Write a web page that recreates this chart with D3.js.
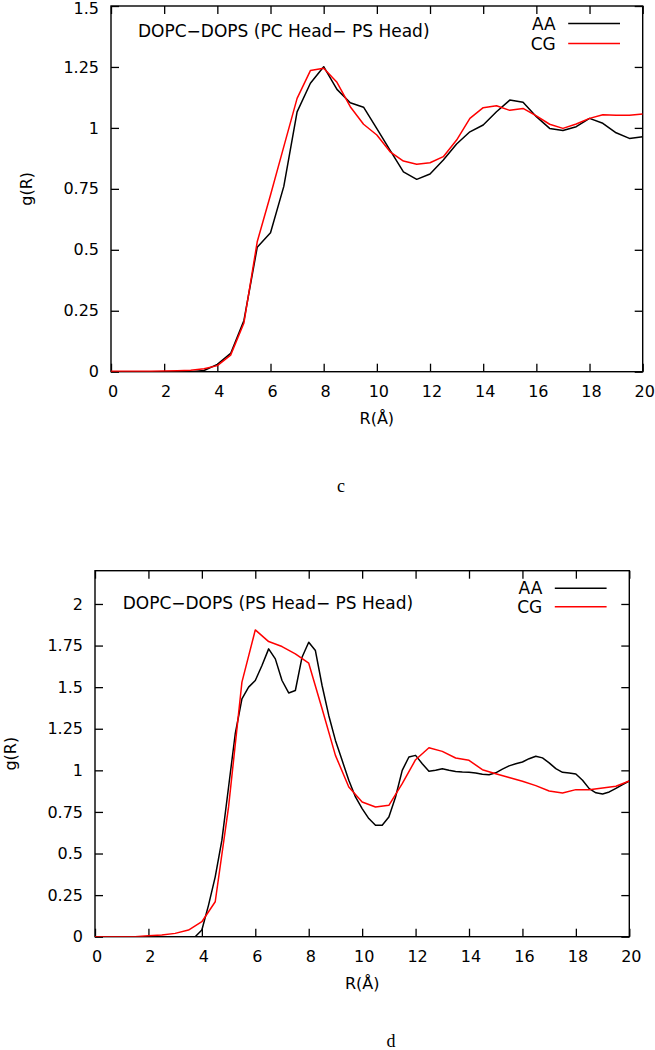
<!DOCTYPE html>
<html><head><meta charset="utf-8">
<script src="https://cdn.jsdelivr.net/npm/d3@7/dist/d3.min.js"></script>
<style>
body{margin:0;background:#fff}
svg{display:block}
</style>
</head><body>
<svg id="fig" width="655" height="1050"></svg>
<script>
// ---------- DATA ----------
const rHalf = [0,0.5,1,1.5,2,2.5,3,3.5,4,4.5,5,5.5,6,6.5,7,7.5,8,8.5,9,9.5,10,10.5,11,11.5,12,12.5,13,13.5,14,14.5,15,15.5,16,16.5,17,17.5,18,18.5,19,19.5,20];

// Panel c: PC Head - PS Head
const aaPC = [0,0,0,0,0,0,0,0.005,0.03,0.075,0.21,0.51,0.57,0.76,1.066,1.183,1.251,1.158,1.103,1.085,0.997,0.908,0.82,0.789,0.811,0.868,0.934,0.984,1.012,1.066,1.114,1.105,1.046,0.998,0.989,1.005,1.039,1.019,0.98,0.957,0.964];
const cgPC = [0.002,0.002,0.002,0.002,0.003,0.004,0.006,0.012,0.025,0.068,0.2,0.533,0.725,0.923,1.121,1.235,1.245,1.187,1.087,1.015,0.971,0.902,0.864,0.851,0.857,0.882,0.95,1.039,1.083,1.091,1.072,1.08,1.049,1.015,0.998,1.016,1.039,1.054,1.052,1.052,1.057];

// Panel d: PS Head - PS Head
const rQuarter = [0,0.25,0.5,0.75,1,1.25,1.5,1.75,2,2.25,2.5,2.75,3,3.25,3.5,3.75,4,4.25,4.5,4.75,5,5.25,5.5,5.75,6,6.25,6.5,6.75,7,7.25,7.5,7.75,8,8.25,8.5,8.75,9,9.25,9.5,9.75,10,10.25,10.5,10.75,11,11.25,11.5,11.75,12,12.25,12.5,12.75,13,13.25,13.5,13.75,14,14.25,14.5,14.75,15,15.25,15.5,15.75,16,16.25,16.5,16.75,17,17.25,17.5,17.75,18,18.25,18.5,18.75,19,19.25,19.5,19.75,20];
const aaPS = [0,0,0,0,0,0,0,0,0,0,0,0,0,0,0,0,0.04,0.19,0.36,0.58,0.9,1.22,1.43,1.5,1.54,1.63,1.73,1.67,1.54,1.465,1.48,1.68,1.77,1.72,1.51,1.33,1.18,1.06,0.94,0.84,0.77,0.71,0.67,0.67,0.72,0.84,1.0,1.08,1.09,1.04,0.995,1.0,1.01,1.0,0.993,0.99,0.988,0.984,0.976,0.974,0.985,1.007,1.027,1.04,1.05,1.07,1.085,1.075,1.045,1.01,0.988,0.984,0.978,0.94,0.89,0.865,0.858,0.87,0.892,0.915,0.936];
const cgPSr = [0,0.5,1,1.5,2,2.5,3,3.5,4,4.5,5,5.5,6,6.5,7,7.5,8,8.5,9,9.5,10,10.5,11,11.5,12,12.5,13,13.5,14,14.5,15,15.5,16,16.5,17,17.5,18,18.5,19,19.5,20];
const cgPS = [0,0,0,0,0.005,0.01,0.02,0.04,0.09,0.21,0.78,1.53,1.844,1.774,1.744,1.7,1.644,1.37,1.09,0.9,0.81,0.78,0.79,0.92,1.064,1.136,1.114,1.074,1.06,1.004,0.98,0.957,0.934,0.908,0.876,0.864,0.884,0.884,0.894,0.904,0.936];

const xTicks = [0,2,4,6,8,10,12,14,16,18,20];
const yTicksC = [0,0.25,0.5,0.75,1,1.25,1.5];
const yTicksD = [0,0.25,0.5,0.75,1,1.25,1.5,1.75,2];
const seriesNames = ["AA","CG"];
const seriesColors = ["#000000","#ff0000"];
const titleC = "DOPC\u2212DOPS (PC Head\u2212 PS Head)";
const titleD = "DOPC\u2212DOPS (PS Head\u2212 PS Head)";
const xLabel = "R(\u00C5)";
const yLabel = "g(R)";

// ---------- DRAW ----------
const svg = d3.select("#fig");
const FONT = "'DejaVu Sans', sans-serif";

function panel(cfg){
  const x = d3.scaleLinear().domain([0,20]).range([cfg.left, cfg.right]);
  const y = d3.scaleLinear().domain([0, cfg.yMax]).range([cfg.bottom, cfg.top]);
  const g = svg.append("g");
  const clipId = "clip" + cfg.id;
  g.append("clipPath").attr("id", clipId).append("rect")
    .attr("x", cfg.left).attr("y", cfg.top)
    .attr("width", cfg.right - cfg.left).attr("height", cfg.bottom - cfg.top);

  const styleAxis = sel => {
    sel.select(".domain").remove();
    sel.selectAll(".tick line").attr("stroke","#000").attr("stroke-width",1.3);
    sel.selectAll("text").attr("font-family",FONT).attr("font-size",16).attr("fill","#000");
    sel.attr("font-family",FONT);
  };

  g.append("g").attr("transform",`translate(0,${cfg.bottom})`)
    .call(d3.axisBottom(x).tickValues(xTicks).tickFormat(d3.format("d")).tickSize(-8).tickSizeOuter(0).tickPadding(13.5))
    .call(styleAxis)
    .selectAll("text").attr("dx", 1.5);
  g.append("g").attr("transform",`translate(0,${cfg.top})`)
    .call(d3.axisTop(x).tickValues(xTicks).tickFormat("").tickSize(-8).tickSizeOuter(0))
    .call(styleAxis);
  const yAx = g.append("g").attr("transform",`translate(${cfg.left},0)`)
    .call(d3.axisLeft(y).tickValues(cfg.yTicks).tickFormat(d => String(d)).tickSize(-8).tickSizeOuter(0).tickPadding(12))
    .call(styleAxis);
  // keep the top label inside the page
  yAx.selectAll(".tick text").filter(function(){
    const ty = y(d3.select(this.parentNode).datum());
    return ty < 8;
  }).attr("dy","0.45em");
  g.append("g").attr("transform",`translate(${cfg.right},0)`)
    .call(d3.axisRight(y).tickValues(cfg.yTicks).tickFormat("").tickSize(-8).tickSizeOuter(0))
    .call(styleAxis);

  g.append("rect").attr("x",cfg.left).attr("y",cfg.top)
    .attr("width",cfg.right-cfg.left).attr("height",cfg.bottom-cfg.top)
    .attr("fill","none").attr("stroke","#000").attr("stroke-width",1.4);

  const line = d3.line().x(d => x(d[0])).y(d => y(d[1]));
  cfg.series.forEach((s,i) => {
    g.append("path").datum(d3.zip(s.r, s.v))
      .attr("clip-path",`url(#${clipId})`)
      .attr("fill","none").attr("stroke",seriesColors[i]).attr("stroke-width",1.5)
      .attr("stroke-linejoin","round")
      .attr("d", line);
  });

  // title
  g.append("text").attr("x",cfg.titleX).attr("y",cfg.titleY)
    .attr("font-family",FONT).attr("font-size",17).text(cfg.title);

  // legend
  seriesNames.forEach((n,i) => {
    const by = cfg.legY + i*cfg.legGap;
    g.append("text").attr("x",cfg.right-87).attr("y",by).attr("text-anchor","end")
      .attr("font-family",FONT).attr("font-size",17).text(n);
    g.append("line").attr("x1",cfg.right-74.5).attr("x2",cfg.right-22.7)
      .attr("y1",by-6).attr("y2",by-6)
      .attr("stroke",seriesColors[i]).attr("stroke-width",1.5);
  });

  // axis labels
  g.append("text").attr("x",(cfg.left+cfg.right)/2).attr("y",cfg.bottom+52)
    .attr("text-anchor","middle").attr("font-family",FONT).attr("font-size",16).text(xLabel);
  g.append("text").attr("transform",`translate(${cfg.left-79},${(cfg.top+cfg.bottom)/2}) rotate(-90)`)
    .attr("text-anchor","middle").attr("font-family",FONT).attr("font-size",16).text(yLabel);

  // caption
  g.append("text").attr("x",cfg.capX).attr("y",cfg.capY).attr("text-anchor","middle")
    .attr("font-family","'Liberation Serif', 'Times New Roman', serif").attr("font-size",18).text(cfg.caption);
}

panel({id:"c", left:111, right:642.7, top:6, bottom:371.7, yMax:1.5, yTicks:yTicksC,
  title:titleC, titleX:138, titleY:36.7, legY:29.5, legGap:20,
  series:[{r:rHalf, v:aaPC},{r:rHalf, v:cgPC}], caption:"c", capX:341, capY:492});

panel({id:"d", left:95, right:629.3, top:570.7, bottom:936.7, yMax:2.2, yTicks:yTicksD,
  title:titleD, titleX:122.7, titleY:609.3, legY:594.3, legGap:18.4,
  series:[{r:rQuarter, v:aaPS},{r:cgPSr, v:cgPS}], caption:"d", capX:391, capY:1047});
</script>
</body></html>
